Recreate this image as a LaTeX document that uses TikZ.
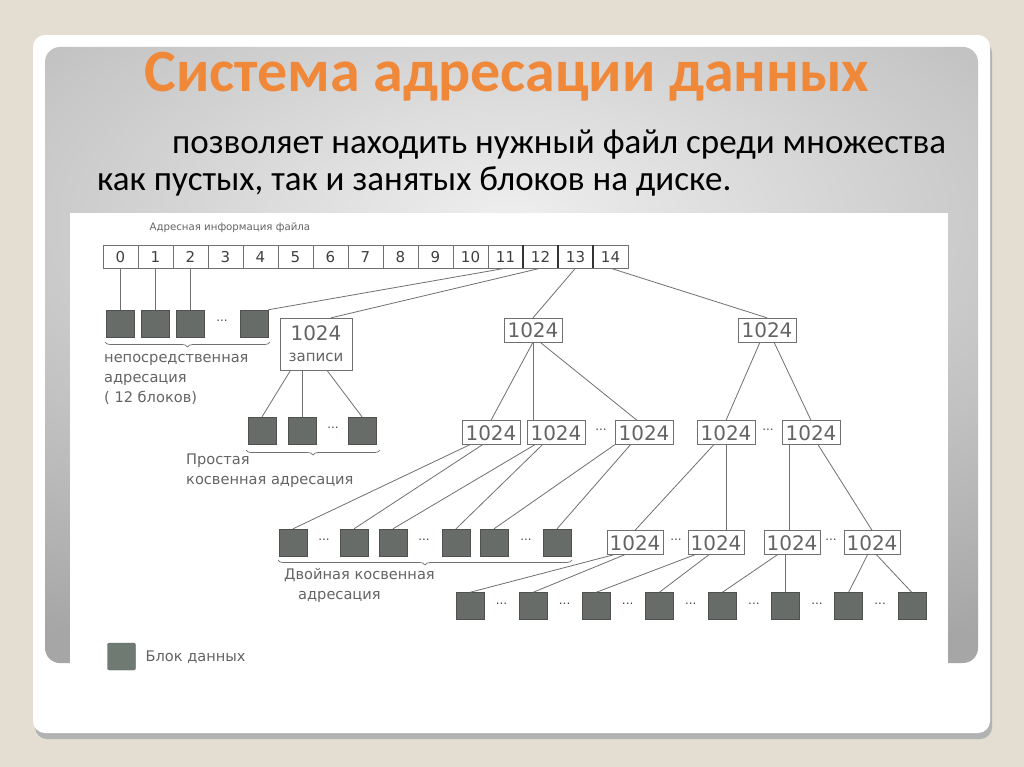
\documentclass[tikz,border=0pt]{standalone}
\usepackage{fontspec}
\setmainfont{Carlito}
\newfontfamily\diagfont{DejaVu Sans}
\usetikzlibrary{positioning,calc,decorations.pathreplacing}
\definecolor{slidebg}{RGB}{227,221,210}
\definecolor{titleorange}{RGB}{240,136,58}
\definecolor{blockgray}{RGB}{104,108,104}
\definecolor{legendgray}{RGB}{110,122,114}
\definecolor{linegray}{RGB}{112,112,112}
\definecolor{textgray}{RGB}{100,100,100}

\begin{document}
\begin{tikzpicture}[
  x=1pt,y=-1pt,
  every node/.style={font=\diagfont\fontsize{14.6}{20}\selectfont,text=textgray},
  cellbox/.style={draw=linegray,minimum width=35pt,minimum height=23pt,inner sep=0pt,
                  text height=11pt,text depth=0pt,
                  font=\diagfont\fontsize{15}{16}\selectfont,text=black!75},
  datablk/.style={draw=blockgray!75!black,fill=blockgray,minimum width=28pt,minimum height=27pt,inner sep=0pt},
  ptrbox/.style={draw=linegray,minimum width=58pt,minimum height=24pt,inner sep=0pt,
                 text height=15pt,text depth=0pt,
                 font=\diagfont\fontsize{20}{22}\selectfont},
  dots/.style={font=\diagfont\fontsize{12}{12}\selectfont,text=black!70},
  link/.style={draw=linegray,line width=0.8pt},
  brace/.style={draw=linegray,line width=0.7pt,decorate,decoration={brace,mirror,amplitude=5pt}},
]
  \useasboundingbox (0,0) rectangle (1024,767);

  % slide
  \fill[slidebg] (0,0) rectangle (1024,767);
  \fill[black!30,rounded corners=12pt] (35,41) rectangle (992,739);
  \fill[white,rounded corners=12pt] (33,35) rectangle (990,733);
  \begin{scope}
    \clip[rounded corners=15pt] (45,47) rectangle (978,663);
    \shade[inner color=gray!13,outer color=gray!70] (-430,-250) rectangle (1450,690);
  \end{scope}
  \fill[white] (70,213) rectangle (948,683);

  % Title and text
  \node[font=\fontsize{60}{64}\selectfont\bfseries,text=titleorange,anchor=base] (title) at (507,92)
    {Система адресации данных};
  \node[font=\fontsize{35}{37}\selectfont,text=black,align=left,anchor=north west,inner sep=0pt] (intro) at (97,130)
    {\hspace*{75pt}позволяет находить нужный файл среди множества\\как пустых, так и занятых блоков на диске.};

  % Address cells
  \node[font=\diagfont\fontsize{10.2}{13}\selectfont,anchor=west] (hdr) at (146,228) {Адресная информация файла};
  \foreach \i in {0,...,14}
    \node[cellbox] (c\i) at ({120.5+35*\i},256.5) {\i};
  \foreach \i in {12,13,14}
    \draw[line width=2.2pt,black!80] (c\i.north west) -- (c\i.south west);

  % Direct addressing
  \node[datablk] (d0) at (120.5,323.5) {};
  \node[datablk] (d1) at (155.5,323.5) {};
  \node[datablk] (d2) at (190.5,323.5) {};
  \node[dots] (dd) at (222,321) {...};
  \node[datablk] (d3) at (254,323.5) {};
  \foreach \i in {0,1,2}
    \draw[link] (c\i.south) -- (d\i.north);
  \draw[link] (c11.south) -- (d3.north east);
  \draw[brace] (105,342) -- (270,342);
  \node[anchor=north west,align=left,inner sep=0pt] (dlabel) at (104,354)
    {непосредственная\\адресация\\( 12 блоков)};

  % Single indirect
  \node[draw=linegray,minimum width=72pt,minimum height=52pt,inner sep=0pt,align=center,
        font=\diagfont\fontsize{20}{24}\selectfont] (s1) at (316,344)
    {1024\\[-3pt]{\fontsize{15}{17}\selectfont записи}};
  \draw[link] (c12.south) -- (s1.60);
  \node[datablk] (s1b1) at (262,430.5) {};
  \node[datablk] (s1b2) at (302,430.5) {};
  \node[dots] (s1d) at (333,428) {...};
  \node[datablk] (s1b3) at (362,430.5) {};
  \draw[link] ($(s1.south west)!0.15!(s1.south east)$) -- (s1b1.north);
  \draw[link] (s1b2.north |- s1.south) -- (s1b2.north);
  \draw[link] ($(s1.south west)!0.65!(s1.south east)$) -- (s1b3.north);
  \draw[brace] (246,450) -- (380,450);
  \node[anchor=north west,align=left,inner sep=0pt] (s1label) at (186,454)
    {Простая\\косвенная адресация};

  % Double indirect
  \node[ptrbox] (b13) at (533,330) {1024};
  \draw[link] (c13.south) -- (b13.north);
  \node[ptrbox] (a1) at (491,432.5) {1024};
  \node[ptrbox] (a2) at (556,432.5) {1024};
  \node[dots] (ad1) at (601,430) {...};
  \node[ptrbox] (a3) at (644,432.5) {1024};
  \draw[link] (b13.south) -- (a1.north);
  \draw[link] (b13.south) -- (b13.south |- a2.north);
  \draw[link] (b13.-60) -- (a3.120);

  \foreach \k/\x in {1/293,2/354,3/393,4/456,5/494,6/557}
    \node[datablk] (e\k) at (\x,542.5) {};
  \node[dots] (ed1) at (324,540) {...};
  \node[dots] (ed2) at (424,540) {...};
  \node[dots] (ed3) at (526,540) {...};
  \draw[link] (a1.-150) -- (e1.north);
  \draw[link] (a1.-125) -- (e2.north);
  \draw[link] (a2.-150) -- (e3.north);
  \draw[link] (a2.-138) -- (e4.north);
  \draw[link] (a3.south west) -- (e5.north);
  \draw[link] (a3.-138) -- (e6.north);
  \draw[brace] (278,560) -- (572,560);
  \node[anchor=north west,align=left,inner sep=0pt] (elabel) at (284,568)
    {Двойная косвенная\\\hspace*{14pt}адресация};

  % Triple indirect
  \node[ptrbox] (b14) at (767,330) {1024};
  \draw[link] (c14.south) -- (b14.north);
  \node[ptrbox] (a4) at (726,432.5) {1024};
  \node[dots] (ad2) at (768,430) {...};
  \node[ptrbox] (a5) at (811,432.5) {1024};
  \draw[link] (b14.-120) -- (a4.north);
  \draw[link] (b14.-60) -- (a5.north);

  \node[ptrbox,minimum width=56pt] (f1) at (635,542.5) {1024};
  \node[dots] (fd1) at (676,540) {...};
  \node[ptrbox,minimum width=56pt] (f2) at (716,542.5) {1024};
  \node[ptrbox,minimum width=56pt] (f3) at (792,542.5) {1024};
  \node[dots] (fd2) at (831,540) {...};
  \node[ptrbox,minimum width=56pt] (f4) at (872,542.5) {1024};
  \draw[link] (a4.-135) -- (f1.north);
  \draw[link] (a4.south) -- (a4.south |- f2.north);
  \draw[link] (a5.-150) -- (a5.-150 |- f3.north);
  \draw[link] (a5.-60) -- (f4.north);

  \foreach \k in {1,...,8}
    \node[datablk] (g\k) at ({470+63.1*(\k-1)},606) {};
  \foreach \k in {1,...,7}
    \node[dots] (gd\k) at ({501.5+63.1*(\k-1)},603.5) {...};
  \draw[link] (f1.-150) -- (g1.north);
  \draw[link] (f1.-130) -- (g2.north);
  \draw[link] (f2.-150) -- (g3.north);
  \draw[link] (f2.-120) -- (g4.north);
  \draw[link] (f3.-140) -- (g5.north);
  \draw[link] (g6.north |- f3.south) -- (g6.north);
  \draw[link] (f4.-110) -- (g7.north);
  \draw[link] (f4.-70) -- (g8.north);

  % Legend
  \node[datablk,fill=legendgray,draw=legendgray!80!black,rounded corners=2pt] (leg) at (121.5,656.5) {};
  \node[anchor=west] (legtext) at (142,657) {Блок данных};
\end{tikzpicture}
\end{document}
